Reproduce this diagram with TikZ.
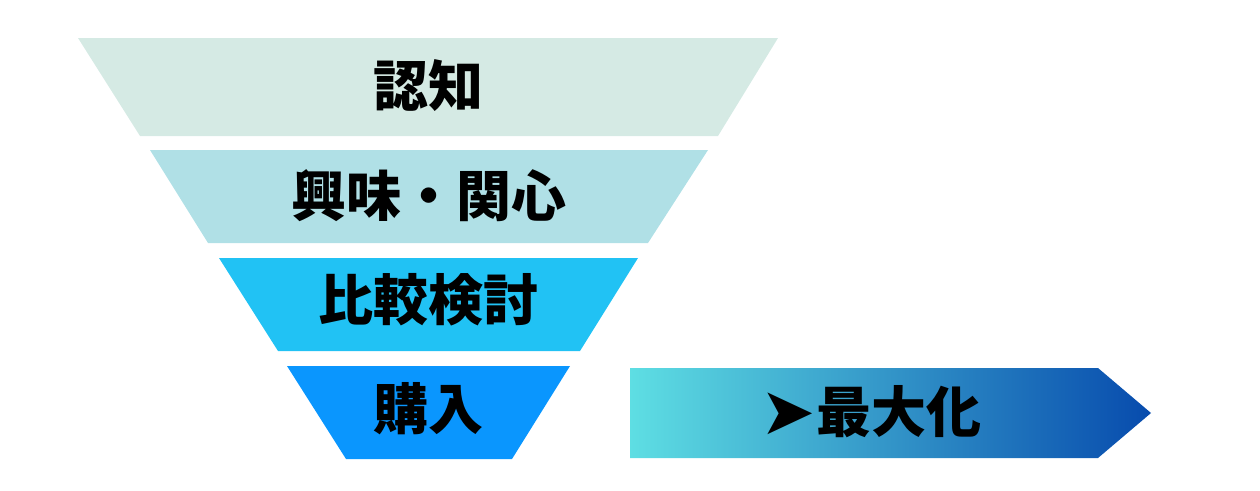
\documentclass[tikz,border=0pt]{standalone}
\usepackage{fontspec}
\newfontfamily\jp{Noto Sans CJK JP}
\newfontfamily\dv{DejaVu Sans}
\definecolor{cA}{HTML}{D5EAE4}
\definecolor{cB}{HTML}{B0E0E6}
\definecolor{cC}{HTML}{21C2F4}
\definecolor{cD}{HTML}{0A96FE}
\definecolor{gL}{HTML}{5EDEE3}
\definecolor{gR}{HTML}{074BAD}
\tikzset{
  lbl/.style={inner sep=0pt, font=\jp\bfseries\fontsize{55}{60}\selectfont, text=black},
}
\begin{document}
\begin{tikzpicture}[x=1pt,y=-1pt]
\useasboundingbox (0,0) rectangle (1260,490);
\fill[cA] (78,38) -- (778,38) -- (718,136) -- (140,136) -- cycle;
\fill[cB] (150,150) -- (708,150) -- (648,243) -- (208,243) -- cycle;
\fill[cC] (219,258) -- (638,258) -- (580,351) -- (278,351) -- cycle;
\fill[cD] (287,366) -- (570,366) -- (512,459) -- (346,459) -- cycle;
\shade[left color=gL, right color=gR, shading angle=90] (630,368) -- (1098,368) -- (1151,413) -- (1098,458) -- (630,458) -- cycle;
\node[lbl] (t1) at (428,86) {認知};
\node[lbl] (t2) at (429,196) {興味・関心};
\node[lbl] (t3) at (428,300) {比較検討};
\node[lbl] (t4) at (428,409) {購入};
\node[lbl] (t5) at (871,412) {{\dv\fontsize{66}{60}\selectfont\raisebox{-2pt}{➤}}最大化};
\end{tikzpicture}
\end{document}
